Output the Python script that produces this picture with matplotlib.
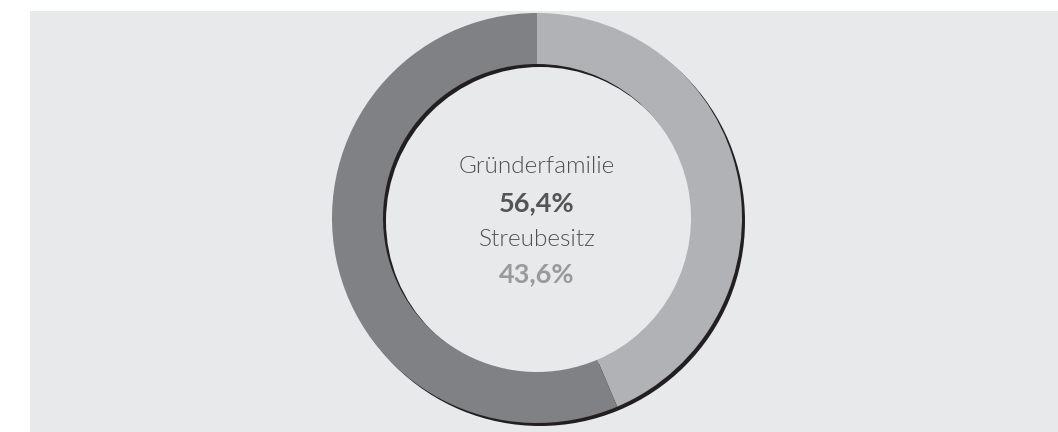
import matplotlib
matplotlib.use("Agg")
import matplotlib.pyplot as plt
from matplotlib.patches import Rectangle

labels = ["Streubesitz", "Gründerfamilie"]
values = [43.6, 56.4]
colors = ["#b1b2b5", "#808184"]

W, H = 1058, 432
fig = plt.figure(figsize=(W / 100, H / 100), dpi=100)
fig.patch.set_facecolor("white")
ax = fig.add_axes([0, 0, 1, 1])

ax.add_patch(Rectangle((30, 0), W - 30, H - 11, facecolor="#e8e9eb", edgecolor="none", zorder=0))

cx, cy, R, ring = 537, H - 218, 205, 51
# shadow
ax.pie([1], colors=["#231f20"], radius=R, center=(cx + 3, cy - 3),
       wedgeprops=dict(width=ring, edgecolor="none"), frame=True)
ax.pie(values, colors=colors, radius=R, center=(cx, cy), startangle=90, counterclock=False,
       wedgeprops=dict(width=ring, edgecolor="none"), frame=True)
ax.set_xlim(0, W)
ax.set_ylim(0, H)
ax.set_aspect("equal")
ax.axis("off")

def pct(v):
    return f"{v:.1f}%".replace(".", ",")

ax.text(cx, H - 173, labels[1], ha="center", va="baseline", fontsize=17.5, family="Lato",
        weight=300, color="#505050")
ax.text(cx, H - 211, pct(values[1]), ha="center", va="baseline", fontsize=19.5,
        family="Lato", weight="bold", color="#555555")
ax.text(cx, H - 246, labels[0], ha="center", va="baseline", fontsize=17.5, family="Lato",
        weight=300, color="#505050")
ax.text(cx, H - 282, pct(values[0]), ha="center", va="baseline", fontsize=19.5,
        family="Lato", weight="bold", color="#9a9a9a")

fig.savefig("out.png", dpi=100, facecolor="white")
